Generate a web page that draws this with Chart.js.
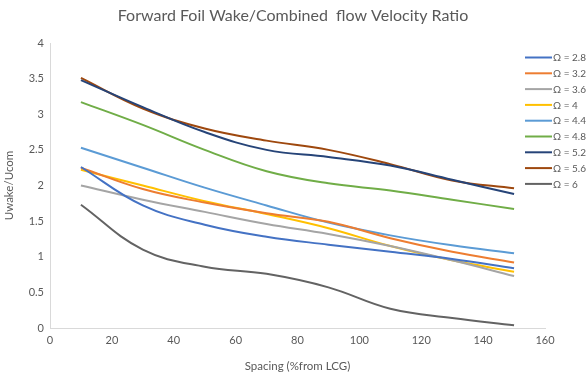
<!DOCTYPE html>
<html>
<head>
<meta charset="utf-8">
<script src="https://cdn.jsdelivr.net/npm/chart.js@4.4.1/dist/chart.umd.min.js"></script>
<style>
  html, body { margin: 0; padding: 0; background: #ffffff; }
  #wrap { position: relative; width: 587px; height: 376px; }
</style>
</head>
<body>
<div id="wrap"><canvas id="chart" width="587" height="376"></canvas></div>
<script>
// Spacing of the measurement stations (% from LCG)
const spacing = [10, 30, 50, 70, 90, 110, 130, 150];

// Uwake/Ucom for each advance ratio Ω
const omegaLabels = ['Ω = 2.8', 'Ω = 3.2', 'Ω = 3.6', 'Ω = 4', 'Ω = 4.4', 'Ω = 4.8', 'Ω = 5.2', 'Ω = 5.6', 'Ω = 6'];
const omega28 = [2.26, 1.72, 1.45, 1.28, 1.17, 1.07, 0.97, 0.84];
const omega32 = [2.25, 1.95, 1.76, 1.61, 1.49, 1.26, 1.07, 0.92];
const omega36 = [2.00, 1.80, 1.63, 1.46, 1.32, 1.15, 0.95, 0.73];
const omega40 = [2.22, 2.00, 1.78, 1.60, 1.40, 1.15, 0.95, 0.79];
const omega44 = [2.53, 2.25, 1.97, 1.72, 1.48, 1.30, 1.16, 1.05];
const omega48 = [3.17, 2.85, 2.50, 2.20, 2.03, 1.93, 1.80, 1.67];
const omega52 = [3.48, 3.10, 2.75, 2.50, 2.40, 2.28, 2.08, 1.88];
const omega56 = [3.51, 3.08, 2.80, 2.63, 2.50, 2.30, 2.07, 1.96];
const omega60 = [1.73, 1.10, 0.86, 0.76, 0.57, 0.27, 0.14, 0.04];

// y-axis tick values
const yTicks = [0, 0.5, 1, 1.5, 2, 2.5, 3, 3.5, 4];

const seriesValues = [omega28, omega32, omega36, omega40, omega44, omega48, omega52, omega56, omega60];
const seriesColors = ['#4472C4', '#ED7D31', '#A5A5A5', '#FFC000', '#5B9BD5', '#70AD47', '#264478', '#9E480E', '#636363'];

const chartTitle = 'Forward Foil Wake/Combined  flow Velocity Ratio';
const textGray = '#595959';
const fontFamily = 'Lato, "Open Sans", sans-serif';

const datasets = seriesValues.map((vals, i) => ({
  label: omegaLabels[i],
  data: vals.map((v, j) => ({ x: spacing[j], y: v })),
  borderColor: seriesColors[i],
  backgroundColor: seriesColors[i],
  borderWidth: 2,
  showLine: true,
  pointRadius: 0,
  tension: 0.4,
  fill: false
}));

// Title and right-hand legend painted on the canvas
const decorations = {
  id: 'decorations',
  afterDraw(chart) {
    const ctx = chart.ctx;
    ctx.save();
    ctx.fillStyle = textGray;
    ctx.font = '16px ' + fontFamily;
    ctx.textAlign = 'center';
    ctx.textBaseline = 'middle';
    ctx.fillText(chartTitle, 293, 16);

    ctx.font = '10px ' + fontFamily;
    ctx.textAlign = 'left';
    chart.data.datasets.forEach((ds, i) => {
      const y = 57.5 + i * 15.8;
      ctx.strokeStyle = ds.borderColor;
      ctx.lineWidth = 2;
      ctx.beginPath();
      ctx.moveTo(525, y);
      ctx.lineTo(552, y);
      ctx.stroke();
      ctx.fillStyle = textGray;
      ctx.fillText(ds.label, 553, y + 0.5);
    });
    ctx.restore();
  }
};

new Chart(document.getElementById('chart'), {
  type: 'scatter',
  data: { datasets },
  plugins: [decorations],
  options: {
    responsive: false,
    animation: false,
    devicePixelRatio: 1,
    layout: { padding: { top: 43, right: 42, left: 0, bottom: 0 } },
    plugins: {
      legend: { display: false },
      title: { display: false },
      tooltip: { enabled: false }
    },
    scales: {
      x: {
        type: 'linear',
        min: 0,
        max: 160,
        ticks: { stepSize: 20, color: textGray, font: { size: 11, family: fontFamily }, padding: 6 },
        grid: { display: false, drawTicks: false },
        border: { display: true, color: '#D9D9D9', width: 1 },
        title: { display: true, text: 'Spacing (%from LCG)', color: textGray, font: { size: 11.5, family: fontFamily }, padding: { top: 4, bottom: 3 } },
        afterFit(scale) { scale.height = 48; }
      },
      y: {
        type: 'linear',
        min: 0,
        max: 4,
        afterBuildTicks(scale) { scale.ticks = yTicks.map(v => ({ value: v })); },
        ticks: {
          color: textGray,
          font: { size: 11, family: fontFamily },
          padding: 6,
          callback: (v) => String(v)
        },
        grid: { display: false, drawTicks: false },
        border: { display: true, color: '#D9D9D9', width: 1 },
        title: { display: true, text: 'Uwake/Ucom', color: textGray, font: { size: 11.5, family: fontFamily }, padding: { top: 2, bottom: 4 } },
        afterFit(scale) { scale.width = 50; }
      }
    }
  }
});
</script>
</body>
</html>
